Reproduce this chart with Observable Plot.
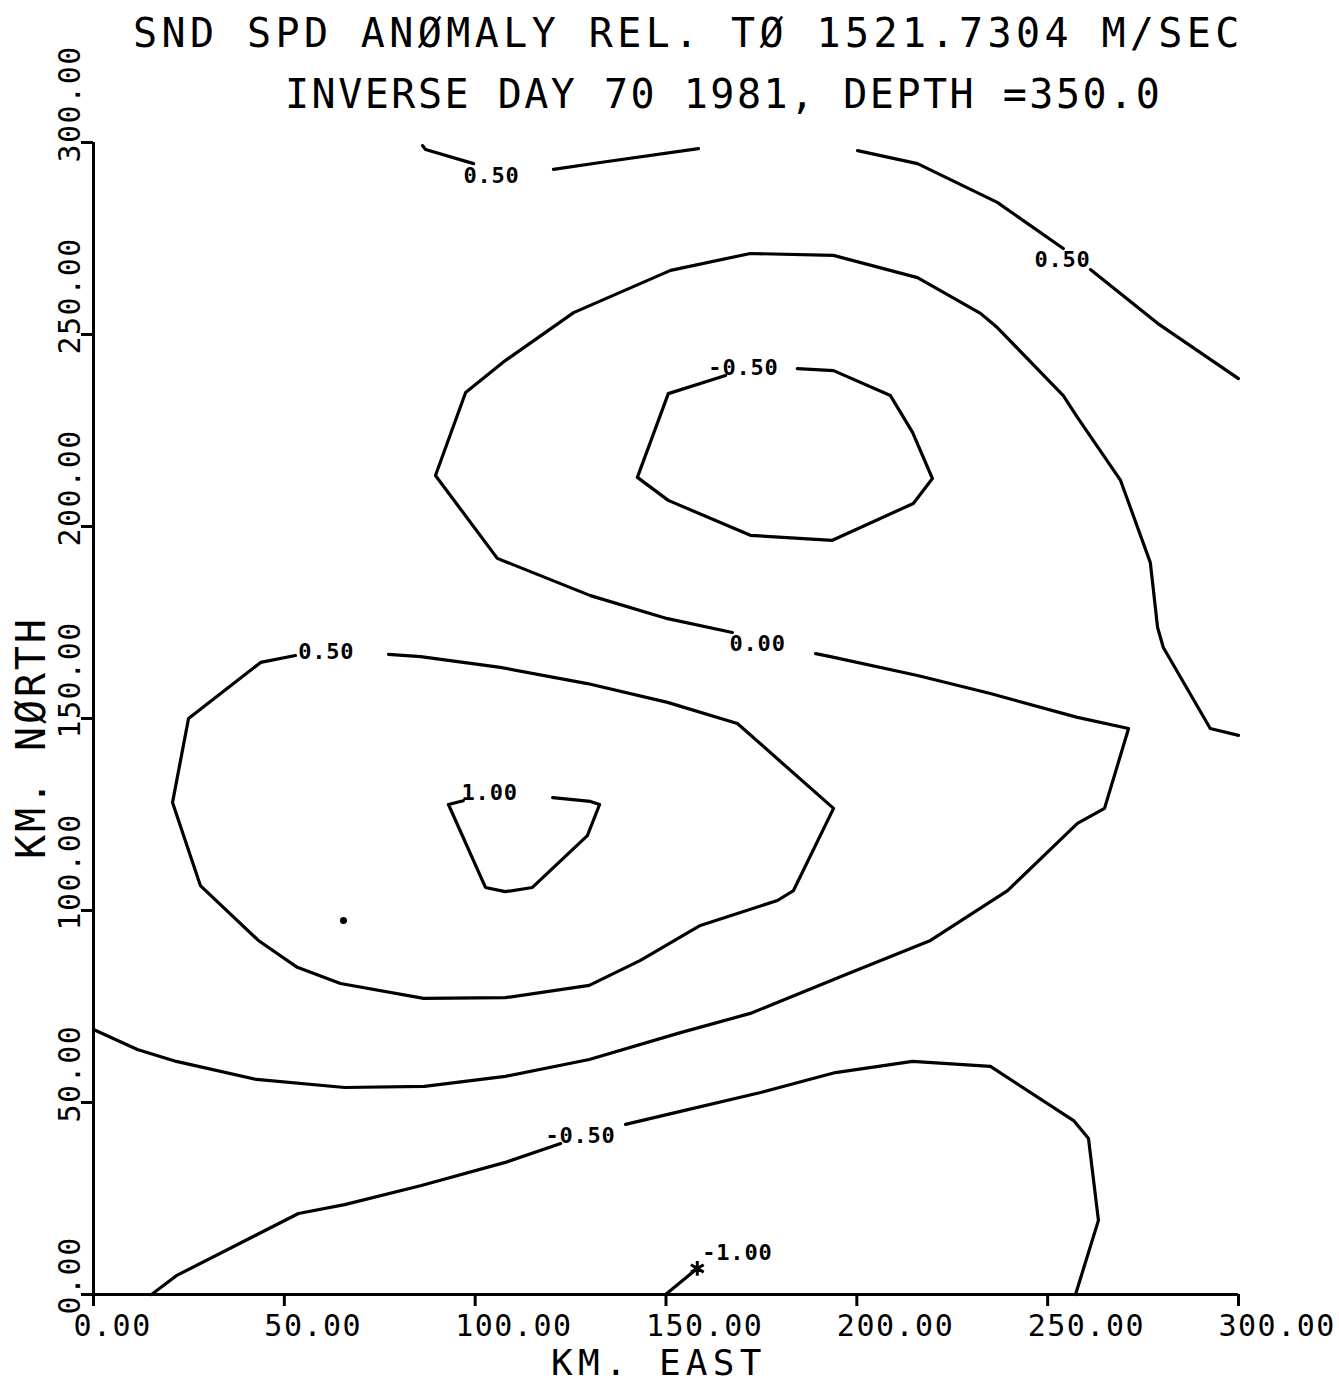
<!DOCTYPE html>
<html><head><meta charset="utf-8">
<script src="https://cdn.jsdelivr.net/npm/d3@7"></script>
<script src="https://cdn.jsdelivr.net/npm/@observablehq/plot@0.6"></script>
<style>
body{margin:0;background:#fff;}
#wrap{position:relative;width:1339px;height:1385px;overflow:hidden;}
.t{position:absolute;font-family:"DejaVu Sans Mono",monospace;font-size:40px;line-height:30px;white-space:nowrap;color:#000;}
svg g[font-size="30"]{letter-spacing:1.5px;}
svg g[font-size="22"]{letter-spacing:0.8px;}
</style></head><body>
<div id="wrap">
<div class="t" style="left:133px;top:18px;letter-spacing:4.4px">SND SPD ANØMALY REL. TØ 1521.7304 M/SEC</div>
<div class="t" style="left:285px;top:79px;letter-spacing:2.5px">INVERSE DAY 70 1981, DEPTH =350.0</div>
<div class="t" style="left:551px;top:1348px;font-size:36px;letter-spacing:5.3px">KM. EAST</div>
<div class="t" style="left:16px;top:859px;letter-spacing:2.9px;transform:rotate(-90deg);transform-origin:0 0">KM. NØRTH</div>
</div>
<script>
// Axis ticks (km)
const xTicks = [0, 50, 100, 150, 200, 250, 300];
const yTicks = [0, 50, 100, 150, 200, 250, 300];

// Contour pieces [km east, km north]
const c050_top_a = [[86.2,299.2],[87.0,298.2],[99.6,294.5]];
const c050_top_b = [[120.5,293.0],[132.8,294.8],[158.5,298.4]];
const c050_right_a = [[200.2,297.9],[215.9,294.5],[236.8,284.4],[254.1,272.4]];
const c050_right_b = [[261.2,266.9],[278.8,252.9],[300,238.5]];
const cm050_upper = [[184.4,241.1],[193.9,240.6],[208.8,234.1],[214.6,224.5],[219.8,212.5],[214.8,206.0],[193.6,196.4],[172.1,197.7],[150.6,206.8],[142.5,212.8],[150.6,234.6],[165.6,239.3]];
const c000_a = [[167.4,172.4],[150.4,176.0],[130.2,182.0],[105.8,191.7],[89.6,213.3],[97.5,234.9],[107.9,243.2],[125.8,255.7],[151.2,266.7],[172.1,271.1],[193.9,270.6],[215.9,264.8],[232.4,255.5],[236.8,251.8],[254.1,234.1],[257.8,228.4],[269.1,212.0],[276.9,190.6],[278.8,173.7],[280.3,168.5],[292.6,147.4],[300,145.6]];
const c000_b = [[189.2,166.9],[193.1,166.1],[215.9,161.2],[235.0,156.5],[257.8,150.3],[271.2,147.4],[264.9,126.6],[257.8,122.7],[239.5,105.2],[219.3,92.2],[197.8,83.6],[172.1,73.2],[153.8,68.2],[129.9,61.2],[107.9,56.8],[86.7,54.2],[65.8,53.9],[42.7,56.0],[21.7,60.7],[11.5,63.8],[0,69.0]];
const c050_left = [[77.3,166.7],[85.7,166.1],[106.6,163.3],[129.4,159.1],[150.4,154.2],[168.7,148.7],[193.9,126.6],[183.4,105.2],[179.2,102.6],[159.0,96.1],[143.3,87.0],[129.9,80.5],[107.9,77.3],[86.5,77.1],[64.7,81.0],[53.4,85.2],[43.2,92.2],[28.0,106.5],[20.7,128.1],[24.9,150.0],[43.8,164.6],[52.9,166.4]];
const c100 = [[120.3,129.4],[130.2,128.4],[132.6,127.6],[129.4,119.5],[115.0,106.0],[107.9,104.9],[102.7,106.0],[93.0,127.6],[96.9,128.6]];
const cm050_lower_a = [[15.2,0],[21.7,4.9],[53.7,21.1],[65.8,23.4],[85.9,28.4],[107.9,34.4],[122.4,39.3]];
const cm050_lower_b = [[139.4,44.3],[153.8,47.7],[174.8,52.6],[194.4,57.8],[214.6,60.7],[235.0,59.4],[256.8,45.3],[260.7,40.6],[263.3,19.3],[257.3,0]];
const cm100 = [[149.9,0],[158.2,6.8]];

// Contour labels
const labelText = ["0.50","0.50","-0.50","0.00","0.50","1.00","-0.50","-1.00"];
const labelX = [104.3, 253.9, 170.3, 174.0, 61.0, 103.8, 127.6, 168.7];
const labelY = [291.4, 269.3, 241.4, 169.5, 167.2, 130.5, 41.4, 10.9];

// stray ink speck
const specks = [[65.5, 97.4]];

const pieces = {c050_top_a, c050_top_b, c050_right_a, c050_right_b, cm050_upper, c000_a, c000_b, c050_left, c100, cm050_lower_a, cm050_lower_b, cm100};
const rows = [];
for (const [id, pts] of Object.entries(pieces)) for (const [x, y] of pts) rows.push({id, x, y});
const labels = labelText.map((t, i) => ({t, x: labelX[i], y: labelY[i]}));
const endStar = [cm100[cm100.length - 1]];
const fam = "DejaVu Sans Mono";

const chart = Plot.plot({
  width: 1339, height: 1385,
  marginLeft: 93, marginRight: 101, marginTop: 142, marginBottom: 91,
  x: {domain: [0, 300], axis: null},
  y: {domain: [0, 300], axis: null},
  style: {background: "white", overflow: "visible"},
  marks: [
    Plot.ruleX([0], {stroke: "black", strokeWidth: 3}),
    Plot.ruleY([0], {stroke: "black", strokeWidth: 3}),
    Plot.ruleX(xTicks, {x: d => d, y1: 0, y2: 0, insetBottom: -12, stroke: "black", strokeWidth: 3}),
    Plot.ruleY(yTicks, {y: d => d, x1: 0, x2: 0, insetLeft: -12, stroke: "black", strokeWidth: 3}),
    Plot.text(xTicks, {x: d => d, y: 0, text: d => d.toFixed(2), textAnchor: "start", lineAnchor: "bottom", dx: -20, dy: 41, fontSize: 30, fontFamily: fam, fill: "black"}),
    Plot.text(yTicks, {x: 0, y: d => d, text: d => d.toFixed(2), rotate: -90, textAnchor: "start", lineAnchor: "middle", dx: -23, dy: 20, fontSize: 30, fontFamily: fam, fill: "black"}),
    Plot.line(rows, {x: "x", y: "y", z: "id", stroke: "black", strokeWidth: 3.2, strokeLinejoin: "round", strokeLinecap: "round"}),
    Plot.dot(endStar, {x: d => d[0], y: d => d[1], symbol: "asterisk", r: 7, stroke: "black", strokeWidth: 3}),
    Plot.dot(specks, {x: d => d[0], y: d => d[1], r: 3.5, fill: "black"}),
    Plot.text(labels, {x: "x", y: "y", text: "t", fontSize: 22, fontWeight: "bold", fontFamily: fam, fill: "black"})
  ]
});
document.getElementById("wrap").prepend(chart);
chart.style.position = "absolute";
chart.style.left = "0px";
chart.style.top = "0px";
</script>
</body></html>
